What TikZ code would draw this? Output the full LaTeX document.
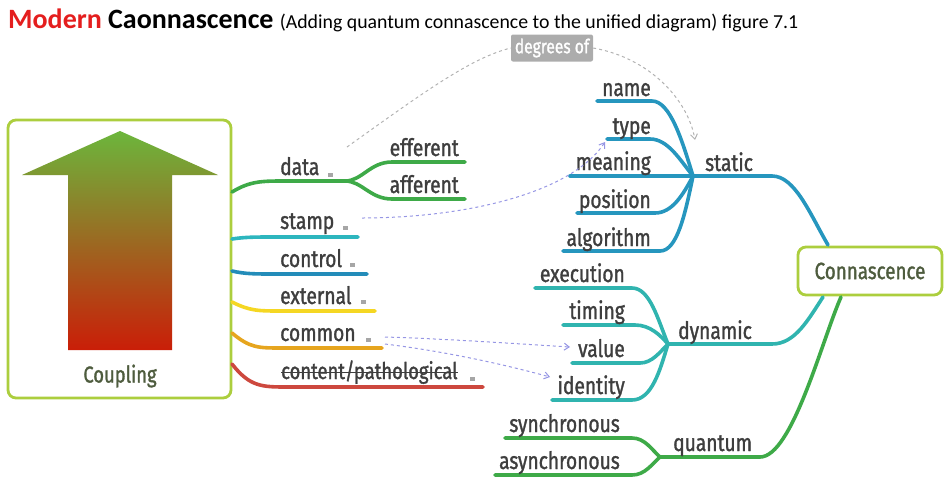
\documentclass[tikz,border=0pt]{standalone}
\usepackage{fontspec}
\setmainfont{Carlito}
\newfontfamily\cond[FakeStretch=0.8,FakeBold=1.3]{Fira Sans}
\usetikzlibrary{arrows.meta}
\definecolor{txt}{RGB}{62,62,62}
\definecolor{boxgreen}{RGB}{172,206,62}
\definecolor{boxtxt}{RGB}{78,92,62}
\definecolor{cstatic}{RGB}{38,150,190}
\definecolor{cdyn}{RGB}{48,180,175}
\definecolor{cgreen}{RGB}{62,170,72}
\definecolor{cstamp}{RGB}{45,182,190}
\definecolor{ccontrol}{RGB}{35,140,185}
\definecolor{cext}{RGB}{245,215,35}
\definecolor{ccommon}{RGB}{230,165,30}
\definecolor{cred}{RGB}{205,72,62}
\definecolor{purp}{RGB}{150,150,228}
\definecolor{titlered}{RGB}{228,30,30}
\begin{document}
\begin{tikzpicture}[x=1pt,y=-1pt,
  lbl/.style={font=\cond\fontsize{24}{27}\selectfont, text=txt, inner sep=0pt},
  branch/.style={line width=3.6pt, line cap=round},
  framebox/.style={draw=boxgreen, line width=2.8pt, rounded corners=8pt, fill=white},
  notemark/.style={fill=gray!70, draw=none},
  dlink/.style={dashed, line width=1pt, -{Straight Barb[length=5pt,width=7pt]}},
]
\useasboundingbox (0,0) rectangle (948,483);

% title
\node[anchor=base west, inner sep=0pt] (title) at (8,28)
  {\fontsize{28}{30}\selectfont\bfseries{\color{titlered}Modern} Caonnascence {\mdseries\fontsize{19.8}{22}\selectfont(Adding quantum connascence to the unified diagram) figure 7.1}};

% Coupling box
\draw[framebox] (8,120) rectangle (231,398);
\shade[top color={rgb,255:red,108;green,182;blue,60}, bottom color={rgb,255:red,202;green,30;blue,8}]
  (120,131) -- (218,175) -- (172,175) -- (172,350) -- (68,350) -- (68,175) -- (22,175) -- cycle;
\node[lbl, text=boxtxt, font=\cond\fontsize{23}{25}\selectfont] (coupling) at (120,376) {Coupling};

% coupling branches
\coordinate (dhub) at (345,181);
\draw[branch, cgreen] (232,192) .. controls (250,181) and (262,181) .. (285,181) -- (dhub);
\draw[branch, cgreen] (dhub) .. controls (362,181) and (370,162) .. (392,162) -- (465,162);
\draw[branch, cgreen] (dhub) .. controls (362,181) and (370,199) .. (392,199) -- (465,199);
\draw[branch, cstamp] (232,239) .. controls (245,237) and (255,237) .. (275,237) -- (358,237);
\draw[branch, ccontrol] (232,271) .. controls (245,274) and (255,274) .. (275,274) -- (367,274);
\draw[branch, cext] (232,302) .. controls (250,311) and (258,311) .. (282,311) -- (375,311);
\draw[branch, ccommon] (232,333) .. controls (250,348) and (258,348) .. (282,348) -- (382,348);
\draw[branch, cred] (232,364) .. controls (250,387) and (262,387) .. (288,387) -- (483,387);

\node[lbl, anchor=base west] (data) at (280,175) {data};
\node[lbl, anchor=base east] (eff) at (459,156) {efferent};
\node[lbl, anchor=base east] (aff) at (459,193) {afferent};
\node[lbl, anchor=base west] (stamp) at (280,229) {stamp};
\node[lbl, anchor=base west] (control) at (280,267) {control};
\node[lbl, anchor=base west] (external) at (280,304) {external};
\node[lbl, anchor=base west] (common) at (280,341) {common};
\node[lbl, anchor=base west, font=\cond\fontsize{23}{26}\selectfont] (content) at (281,379) {content/pathological};
\draw[txt, line width=1.3pt] ([yshift=6.5pt]content.base west) -- ([yshift=6.5pt]content.base east);

% note marks
\foreach \p in {(330,175),(345,228),(352,265),(363,302),(368,340),(472,379)}
  \fill[notemark] \p ++(-2.5,-2) rectangle ++(5,4);

% static group
\coordinate (shub) at (693,176);
\draw[branch, cstatic] (597,101) -- (652,101) .. controls (670,101) and (682,140) .. (shub);
\draw[branch, cstatic] (607,139) -- (650,139) .. controls (668,139) and (680,160) .. (shub);
\draw[branch, cstatic] (570,176) -- (shub);
\draw[branch, cstatic] (577,213) -- (655,213) .. controls (672,213) and (683,195) .. (shub);
\draw[branch, cstatic] (563,251) -- (660,251) .. controls (677,251) and (685,215) .. (shub);
\node[lbl, anchor=base east] (name) at (651,96) {name};
\node[lbl, anchor=base east] (type) at (651,134) {type};
\node[lbl, anchor=base east] (meaning) at (651,170) {meaning};
\node[lbl, anchor=base east] (position) at (651,208) {position};
\node[lbl, anchor=base east] (algorithm) at (651,246) {algorithm};
\node[lbl, anchor=base west] (static) at (705,171) {static};

% Connascence box
\node[framebox, minimum width=144pt, minimum height=48pt, inner sep=0pt, lbl, text=boxtxt, font=\cond\fontsize{23.5}{25}\selectfont] (conn) at (870,271) {Connascence};
\draw[branch, cstatic] (shub) -- (772,176) .. controls (795,176) and (810,214) .. (828,245);

% dynamic group
\coordinate (dyhub) at (668,344);
\draw[branch, cdyn] (535,288) -- (632,288) .. controls (650,288) and (658,320) .. (dyhub);
\draw[branch, cdyn] (563,325) -- (635,325) .. controls (650,325) and (660,335) .. (dyhub);
\draw[branch, cdyn] (572,363) -- (640,363) .. controls (652,363) and (660,352) .. (dyhub);
\draw[branch, cdyn] (552,400) -- (632,400) .. controls (652,400) and (660,370) .. (dyhub);
\draw[branch, cdyn] (dyhub) -- (772,344) .. controls (795,344) and (808,320) .. (823,297);
\node[lbl, anchor=base east] (execution) at (625,282) {execution};
\node[lbl, anchor=base east] (timing) at (625,319) {timing};
\node[lbl, anchor=base east] (value) at (625,357) {value};
\node[lbl, anchor=base east] (identity) at (625,394) {identity};
\node[lbl, anchor=base west] (dynamic) at (678,339) {dynamic};

% quantum group
\coordinate (qhub) at (660,457);
\draw[branch, cgreen] (505,438) -- (632,438) .. controls (645,438) and (652,450) .. (qhub);
\draw[branch, cgreen] (495,475) -- (632,475) .. controls (645,475) and (652,464) .. (qhub);
\draw[branch, cgreen] (qhub) -- (760,457) .. controls (792,457) and (822,340) .. (841,297);
\node[lbl, anchor=base east] (sync) at (620,432) {synchronous};
\node[lbl, anchor=base east] (async) at (620,469) {asynchronous};
\node[lbl, anchor=base west] (quantum) at (673,451) {quantum};

% degrees of
\node[fill=gray!65, rounded corners=2pt, minimum width=82pt, minimum height=27pt, inner sep=0pt, text=white, font=\cond\fontsize{19.5}{21}\selectfont] (deg) at (552,48) {degrees of};
\coordinate (dstart) at (347,147);
\coordinate (dend) at (695,140);
\draw[dashed, gray!60, line width=1pt] (dstart) .. controls (420,95) and (470,58) .. (deg.west);
\draw[dlink, gray!60] (deg.east) .. controls (650,58) and (688,100) .. (dend);

% purple links
\coordinate (ps) at (362,218);
\coordinate (pt) at (605,142);
\draw[dlink, purp] (ps) .. controls (460,218) and (570,195) .. (pt);
\coordinate (cs1) at (385,337);
\coordinate (ce1) at (570,347);
\draw[dlink, purp] (cs1) .. controls (450,339) and (520,344) .. (ce1);
\coordinate (cs2) at (385,344);
\coordinate (ce2) at (550,377);
\draw[dlink, purp] (cs2) .. controls (450,352) and (510,366) .. (ce2);
\end{tikzpicture}
\end{document}
